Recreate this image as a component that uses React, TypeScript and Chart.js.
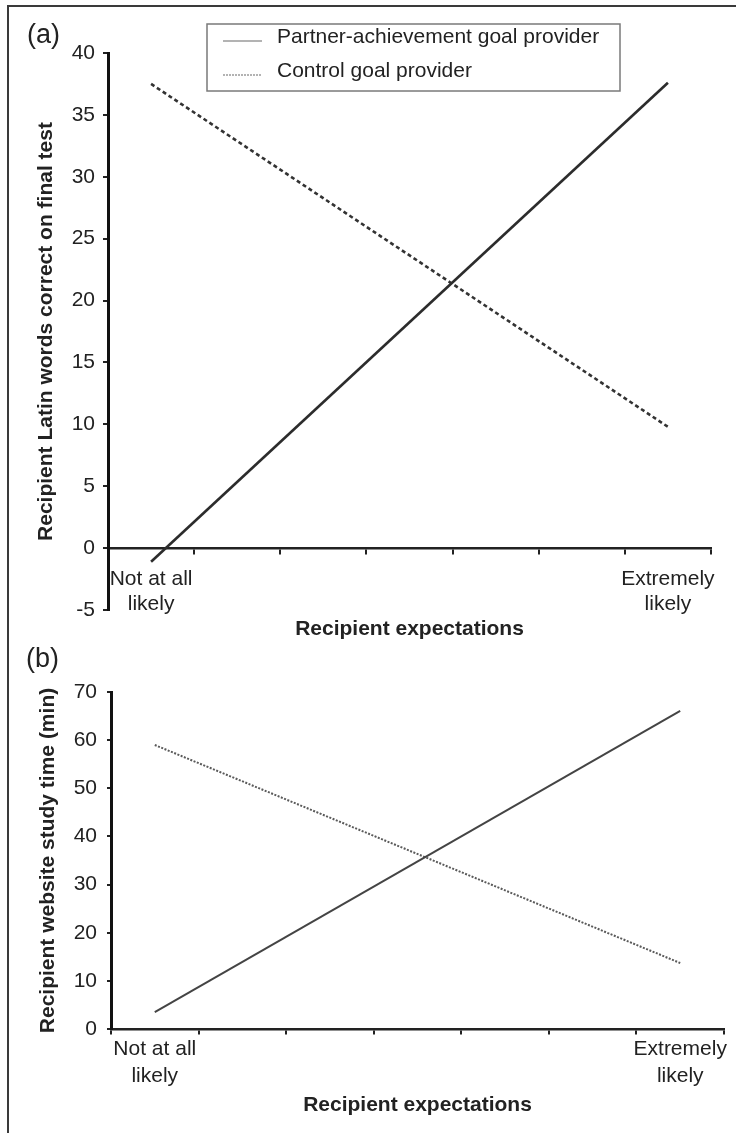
import React, { useEffect, useRef } from 'react';
import { Chart, registerables } from 'chart.js';

Chart.register(...registerables);

const FAMILY = '"Liberation Sans", Arial, Helvetica, sans-serif';

// ---- data ----
const categories: (string | string[])[] = [['Not at all', 'likely'], '', '', '', '', '', ['Extremely', 'likely']];
const seriesNames = ['Partner-achievement goal provider', 'Control goal provider'];
const partnerLatin = [-1.1, null, null, null, null, null, 37.6];
const controlLatin = [37.5, null, null, null, null, null, 9.8];
const partnerStudy = [3.5, null, null, null, null, null, 66.1];
const controlStudy = [59.0, null, null, null, null, null, 13.7];
const latinTicks = [-5, 0, 5, 10, 15, 20, 25, 30, 35, 40];
const studyTicks = [0, 10, 20, 30, 40, 50, 60, 70];
const xTitle = 'Recipient expectations';
const yTitleA = 'Recipient Latin words correct on final test';
const yTitleB = 'Recipient website study time (min)';

const legendBoxPlugin = {
  id: 'legendBox',
  afterDraw(chart: any, _args: any, opts: any) {
    if (!opts || !opts.display) return;
    const ctx = chart.ctx;
    ctx.save();
    ctx.strokeStyle = '#7a7a7a';
    ctx.lineWidth = 1.5;
    ctx.setLineDash([]);
    ctx.strokeRect(opts.x, opts.y, opts.w, opts.h);
    chart.data.datasets.forEach((ds: any, i: number) => {
      const rowY = opts.row0 + i * opts.rowGap;
      ctx.beginPath();
      ctx.setLineDash(i === 0 ? [] : [2, 1]);
      ctx.strokeStyle = '#9a9a9a';
      ctx.lineWidth = 1.5;
      ctx.moveTo(opts.lineX0, rowY + opts.lineDy);
      ctx.lineTo(opts.lineX1, rowY + opts.lineDy);
      ctx.stroke();
      ctx.setLineDash([]);
      ctx.fillStyle = '#222';
      ctx.font = '21px ' + FAMILY;
      ctx.textBaseline = 'middle';
      ctx.textAlign = 'left';
      ctx.fillText(ds.label, opts.textX, rowY);
    });
    ctx.restore();
  },
};

const panelLabelPlugin = {
  id: 'panelLabel',
  afterDraw(chart: any, _args: any, opts: any) {
    if (!opts || !opts.text) return;
    const ctx = chart.ctx;
    ctx.save();
    ctx.fillStyle = '#222';
    ctx.font = '27px ' + FAMILY;
    ctx.textBaseline = 'middle';
    ctx.textAlign = 'left';
    ctx.fillText(opts.text, opts.x, opts.y);
    ctx.restore();
  },
};

function buildConfig(p: any): any {
  return {
    type: 'line',
    data: {
      labels: categories,
      datasets: [
        {
          label: seriesNames[0],
          data: p.partner,
          borderColor: p.solidColor,
          borderWidth: p.lw,
          pointRadius: 0,
          spanGaps: true,
          fill: false,
        },
        {
          label: seriesNames[1],
          data: p.control,
          borderColor: p.dashColor,
          borderWidth: p.lw,
          borderDash: p.dash,
          pointRadius: 0,
          spanGaps: true,
          fill: false,
        },
      ],
    },
    options: {
      responsive: false,
      animation: false,
      events: [],
      layout: { padding: p.padding },
      plugins: {
        legend: { display: false },
        tooltip: { enabled: false },
        title: { display: false },
        legendBox: p.legend,
        panelLabel: p.panel,
      },
      scales: {
        x: {
          type: 'category',
          offset: true,
          position: { y: 0 },
          grid: {
            display: true,
            offset: true,
            drawOnChartArea: false,
            drawTicks: true,
            tickLength: p.xTickLen,
            color: '#222',
            lineWidth: 2,
          },
          border: { display: true, color: '#222', width: 2.5 },
          ticks: {
            autoSkip: false,
            maxRotation: 0,
            minRotation: 0,
            padding: p.xTickPad,
            color: '#222',
            font: { size: 21, family: FAMILY, lineHeight: p.xLabelLH },
          },
          title: {
            display: true,
            text: xTitle,
            color: '#222',
            font: { size: 21, weight: 'bold', family: FAMILY, lineHeight: 1.2 },
            padding: 0,
          },
          afterFit: (s: any) => {
            s.height = p.xHeight;
          },
        },
        y: {
          position: 'left',
          min: p.yMin,
          max: p.yMax,
          afterBuildTicks: (s: any) => {
            s.ticks = p.yTicks.map((v: number) => ({ value: v }));
          },
          grid: {
            display: true,
            drawOnChartArea: false,
            drawTicks: true,
            tickLength: p.yTickLen,
            color: '#222',
            lineWidth: 2,
          },
          border: { display: true, color: '#111', width: 3 },
          ticks: {
            padding: p.yTickPad,
            color: '#222',
            font: { size: 21, family: FAMILY },
          },
          title: {
            display: true,
            text: p.yTitle,
            color: '#222',
            font: { size: 21, weight: 'bold', family: FAMILY, lineHeight: 1.2 },
            padding: { top: p.yTitlePad, bottom: 0 },
          },
          afterFit: (s: any) => {
            s.width = p.yWidth;
          },
        },
      },
    },
    plugins: [legendBoxPlugin, panelLabelPlugin],
  };
}

const configA = {
  partner: partnerLatin,
  control: controlLatin,
  solidColor: '#2c2c2c',
  dashColor: '#333',
  lw: 2.6,
  dash: [4, 3],
  padding: { top: 53, bottom: 50, left: 0, right: 25 },
  yMin: -5,
  yMax: 40,
  yTicks: latinTicks,
  yTitle: yTitleA,
  yWidth: 108,
  yTickLen: 5,
  yTickPad: 8,
  yTitlePad: 34,
  xTickLen: 5,
  xTickPad: 14,
  xLabelLH: 1.19,
  xHeight: 94,
  legend: {
    display: true,
    x: 207,
    y: 24,
    w: 413,
    h: 67,
    row0: 37,
    rowGap: 34,
    lineDy: 4,
    lineX0: 223,
    lineX1: 262,
    textX: 277,
  },
  panel: { text: '(a)', x: 27, y: 36 },
};

const configB = {
  partner: partnerStudy,
  control: controlStudy,
  solidColor: '#444',
  dashColor: '#5a5a5a',
  lw: 2,
  dash: [2, 1.5],
  padding: { top: 62, bottom: 104, left: 0, right: 12 },
  yMin: 0,
  yMax: 70,
  yTicks: studyTicks,
  yTitle: yTitleB,
  yWidth: 111,
  yTickLen: 4,
  yTickPad: 10,
  yTitlePad: 36,
  xTickLen: 4,
  xTickPad: 2.5,
  xLabelLH: 1.29,
  xHeight: 89,
  legend: { display: false },
  panel: { text: '(b)', x: 26, y: 30 },
};

function Panel({ cfg, top, height }: { cfg: any; top: number; height: number }) {
  const ref = useRef<HTMLCanvasElement | null>(null);
  useEffect(() => {
    if (!ref.current) return;
    const chart = new Chart(ref.current, buildConfig(cfg));
    return () => chart.destroy();
  }, [cfg]);
  return (
    <canvas
      ref={ref}
      width={736}
      height={height}
      style={{ position: 'absolute', left: 0, top, width: 736, height }}
    />
  );
}

export default function App() {
  return (
    <div
      style={{
        position: 'absolute',
        left: 0,
        top: 0,
        width: 736,
        height: 1133,
        overflow: 'hidden',
        background: '#fff',
      }}
    >
      <div
        style={{
          position: 'absolute',
          left: 7,
          top: 5,
          width: 740,
          height: 1140,
          borderTop: '2px solid #3a3a3a',
          borderLeft: '2px solid #3a3a3a',
        }}
      />
      <Panel cfg={configA} top={0} height={660} />
      <Panel cfg={configB} top={630} height={503} />
    </div>
  );
}
